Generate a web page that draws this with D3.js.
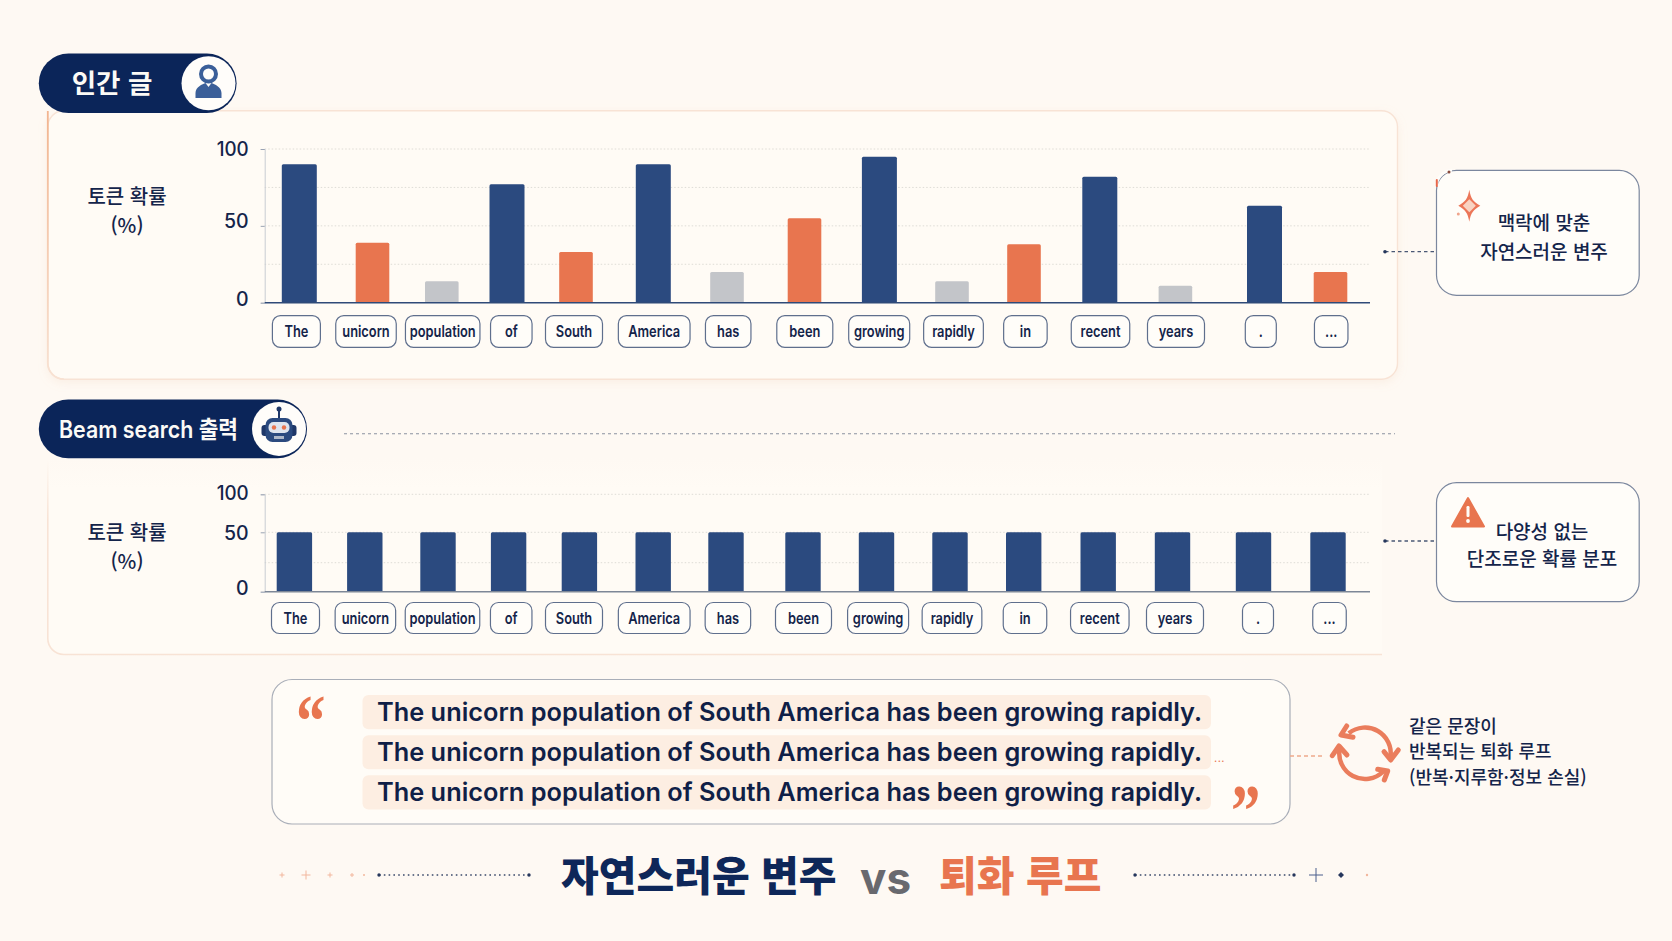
<!DOCTYPE html>
<html lang="ko">
<head>
<meta charset="utf-8">
<title>자연스러운 변주 vs 퇴화 루프</title>
<script src="https://cdn.jsdelivr.net/npm/d3@7"></script>
<style>
  html, body { margin: 0; padding: 0; background: #fef9f3; }
  svg { display: block; }
  text { font-family: "Noto Sans CJK KR", "Noto Sans", sans-serif; }
</style>
</head>
<body>
<svg id="chart" width="1672" height="941"></svg>
<script>
// Chart data
const tokens = ["The", "unicorn", "population", "of", "South", "America", "has", "been", "growing", "rapidly", "in", "recent", "years", ".", "..."];
const humanProb = [90, 39, 14, 77, 33, 90, 20, 55, 95, 14, 38, 82, 11, 63, 20];
const humanGroup = ["high", "mid", "low", "high", "mid", "high", "low", "mid", "high", "low", "mid", "high", "low", "high", "mid"];
const beamProb = [50, 50, 50, 50, 50, 50, 50, 50, 50, 50, 50, 50, 50, 50, 50];
const yTicks = [0, 50, 100];
const sentence = "The unicorn population of South America has been growing rapidly.";
const sentenceRepeats = [0, 1, 2];

// Palette
const BG = "#fef9f3", NAVY = "#0b2559", BAR_NAVY = "#2b4a7f", ORANGE = "#e8754f", GREY = "#c3c5c9", INK = "#14244a";
const LATIN = "Inter, 'Noto Sans CJK KR', sans-serif";
const groupColor = d3.scaleOrdinal().domain(["high", "mid", "low"]).range([BAR_NAVY, ORANGE, GREY]);

// Token slots are spaced by hand along the axis, so the x scales are ordinal lookups
const humanBarX = d3.scaleOrdinal().domain(tokens).range([299.3, 372.5, 441.8, 507, 576, 653.3, 727, 804.5, 879.4, 952, 1024, 1099.8, 1175.4, 1264.5, 1330.5]);
const beamBarX = d3.scaleOrdinal().domain(tokens).range([294.4, 364.8, 438, 508.6, 579.4, 653.2, 726, 803, 876.5, 950, 1023.7, 1098.2, 1172.5, 1253.5, 1328]);
const humanChipX = d3.scaleOrdinal().domain(tokens).range([296.4, 366, 442.7, 511.3, 574, 654.2, 728.2, 804.8, 879.2, 953.5, 1025.4, 1100.5, 1176, 1260.8, 1331.2]);
const beamChipX = d3.scaleOrdinal().domain(tokens).range([295.5, 365.4, 442.5, 511.2, 574, 654.2, 727.9, 803.5, 878.1, 952, 1025, 1099.8, 1175, 1258, 1329.5]);
const chipWidth = d3.scaleOrdinal().domain(tokens).range([48, 60.5, 74.5, 41.5, 57, 71.7, 45.5, 56, 61, 59.7, 43.5, 58.5, 57, 31, 33.5]);

const svg = d3.select("#chart");
const defs = svg.append("defs");

const softShadow = defs.append("filter").attr("id", "soft").attr("x", "-5%").attr("y", "-5%").attr("width", "110%").attr("height", "115%");
softShadow.append("feDropShadow").attr("dx", 0).attr("dy", 3).attr("stdDeviation", 5).attr("flood-color", "#e9b999").attr("flood-opacity", 0.16);

const leftEdge = defs.append("linearGradient").attr("id", "leftEdge").attr("x1", 0).attr("x2", 0).attr("y1", 0).attr("y2", 1);
leftEdge.append("stop").attr("offset", "0%").attr("stop-color", "#f2b48f");
leftEdge.append("stop").attr("offset", "100%").attr("stop-color", "#f8e2d3");

// The lower panel melts into the page at its open top edge
const lowerFill = defs.append("linearGradient").attr("id", "lowerFill").attr("x1", 0).attr("x2", 0).attr("y1", 0).attr("y2", 1);
lowerFill.append("stop").attr("offset", "0%").attr("stop-color", BG);
lowerFill.append("stop").attr("offset", "16%").attr("stop-color", "#fffbf5");
const lowerEdge = defs.append("linearGradient").attr("id", "lowerEdge").attr("gradientUnits", "userSpaceOnUse")
  .attr("x1", 0).attr("x2", 0).attr("y1", 460).attr("y2", 520);
lowerEdge.append("stop").attr("offset", "0%").attr("stop-color", BG);
lowerEdge.append("stop").attr("offset", "100%").attr("stop-color", "#f8e3d5");

// Page background
svg.append("rect").attr("width", 1672).attr("height", 941).attr("fill", BG);

// Upper panel
svg.append("rect").attr("x", 47.8).attr("y", 110.7).attr("width", 1349.7).attr("height", 268.6).attr("rx", 16)
  .attr("fill", "#fffbf5").attr("stroke", "#f8e3d5").attr("stroke-width", 1.4).attr("filter", "url(#soft)");
svg.append("path").attr("d", "M47.8 111V363a16 16 0 0 0 16 16").attr("fill", "none").attr("stroke", "url(#leftEdge)").attr("stroke-width", 1.8);

// Lower panel is open along its top and right sides
svg.append("path").attr("d", "M47.8 458V638a16 16 0 0 0 16 16.5H1382V458Z").attr("fill", "url(#lowerFill)");
svg.append("path").attr("d", "M47.8 458V638a16 16 0 0 0 16 16.5H1382").attr("fill", "none").attr("stroke", "url(#lowerEdge)").attr("stroke-width", 1.6);

function drawChart(cfg) {
  const g = svg.append("g");
  const right = 1370, left = 264.7;

  // Grid lines
  g.selectAll("line.grid").data(cfg.grid).join("line").attr("class", "grid")
    .attr("x1", left).attr("x2", right).attr("y1", d => cfg.y(d)).attr("y2", d => cfg.y(d))
    .attr("stroke", "#dedcd6").attr("stroke-width", 1).attr("stroke-dasharray", "1.5 2");

  // Value axis
  const axis = g.append("g").attr("transform", `translate(${left},0)`)
    .call(d3.axisLeft(cfg.y).tickValues(yTicks).tickSize(4).tickPadding(12));
  axis.select(".domain").attr("stroke", "#c9ccd2").attr("stroke-width", 1);
  axis.selectAll(".tick line").attr("stroke", "#9aa3b3");
  axis.selectAll(".tick text")
    .style("font-family", LATIN)
    .attr("fill", INK).attr("font-size", 19.5).attr("font-weight", 500)
    .attr("textLength", d => d === 100 ? 32 : null).attr("lengthAdjust", "spacingAndGlyphs")
    .attr("dy", d => cfg.labelShift[d]);

  // Bars
  g.selectAll("rect.bar").data(tokens.map((t, i) => ({ t, v: cfg.values[i], group: cfg.groups[i] }))).join("rect")
    .attr("class", "bar")
    .attr("x", d => cfg.barX(d.t) - cfg.barWidth(d.group) / 2)
    .attr("width", d => cfg.barWidth(d.group))
    .attr("y", d => cfg.y(d.v))
    .attr("height", d => cfg.y(0) - cfg.y(d.v))
    .attr("rx", 1.5)
    .attr("fill", d => groupColor(d.group));

  // Baseline
  g.append("line").attr("x1", left).attr("x2", right).attr("y1", cfg.y(0)).attr("y2", cfg.y(0))
    .attr("stroke", cfg.baseline).attr("stroke-width", 1.6);

  // Token chips under the axis
  const chips = g.selectAll("g.chip").data(tokens).join("g").attr("class", "chip")
    .attr("transform", d => `translate(${cfg.chipX(d)},${cfg.chipY})`);
  chips.append("rect")
    .attr("x", d => -chipWidth(d) / 2).attr("width", d => chipWidth(d))
    .attr("height", cfg.chipH).attr("rx", 8)
    .attr("fill", "#fffdf9").attr("stroke", "#5f6f8d").attr("stroke-width", 1.2);
  const chipText = chips.append("text")
    .attr("dy", "0.35em").attr("text-anchor", "middle")
    .style("font-family", LATIN)
    .attr("font-size", 16).attr("font-weight", 600).attr("fill", INK)
    .text(d => d);
  // The labels are set condensed so that the longest one fits its chip with a small margin
  const longest = chipText.filter(d => d === "population").node().getComputedTextLength();
  chipText.attr("transform", `translate(0,${cfg.chipH / 2}) scale(${66 / longest},1)`);

  // Axis title
  const title = g.append("text").attr("text-anchor", "middle").attr("fill", INK).attr("font-size", 20).attr("font-weight", 500);
  title.append("tspan").attr("x", 127).attr("y", cfg.titleY).text("토큰 확률");
  title.append("tspan").attr("x", 127).attr("y", cfg.titleY + 29).text("(%)");
}

drawChart({
  y: d3.scaleLinear().domain([0, 100]).range([302.7, 149]),
  values: humanProb,
  groups: humanGroup,
  barX: humanBarX,
  barWidth: g => g === "high" ? 35 : 33.6,
  chipX: humanChipX,
  chipY: 315.7,
  chipH: 31.6,
  grid: [25, 50, 75, 100],
  baseline: "#2f4a78",
  labelShift: { 100: 6.7, 50: 2, 0: 2.5 },
  titleY: 203.5
});

// The lower value axis is compressed above 50
drawChart({
  y: d3.scaleLinear().domain([0, 25, 50, 100]).range([591.7, 562.7, 532.3, 494.3]),
  values: beamProb,
  groups: beamProb.map(() => "high"),
  barX: beamBarX,
  barWidth: () => 35.4,
  chipX: beamChipX,
  chipY: 602.5,
  chipH: 31,
  grid: [25, 50, 100],
  baseline: "#7d8797",
  labelShift: { 100: 5, 50: 7, 0: 3 },
  titleY: 539.5
});

// Section pills
function pill(x, y, w, h, cx) {
  const g = svg.append("g");
  g.append("rect").attr("x", x).attr("y", y).attr("width", w).attr("height", h).attr("rx", h / 2).attr("fill", NAVY);
  g.append("circle").attr("cx", cx).attr("cy", y + h / 2).attr("r", 27).attr("fill", "#fffdfa");
  return g;
}
pill(38.8, 53.5, 197.8, 59.5, 208.5).append("text")
  .attr("x", 112).attr("y", 84).attr("dy", "0.35em").attr("text-anchor", "middle")
  .attr("font-size", 26.5).attr("font-weight", 700).attr("fill", "#fbfaf6").text("인간 글");
pill(38.8, 399.5, 268.2, 58.8, 279).append("text")
  .attr("x", 59).attr("y", 429.5).attr("dy", "0.35em")
  .style("font-family", LATIN)
  .attr("font-size", 24).attr("font-weight", 600).attr("fill", "#fbfaf6")
  .attr("textLength", 179).attr("lengthAdjust", "spacingAndGlyphs").text("Beam search 출력");

// Person icon
const person = svg.append("g").attr("transform", "translate(208.5,83)").attr("fill", "#3b5f99");
person.append("circle").attr("cy", -9).attr("r", 7.5).attr("fill", "none").attr("stroke", "#3b5f99").attr("stroke-width", 4);
person.append("path").attr("d", "M-13 15V10C-13 4 -6 1 -3 0L0 4L3 0C6 1 13 4 13 10V15Z");

// Robot icon
const robot = svg.append("g").attr("transform", "translate(279,429)");
robot.append("line").attr("y1", -20).attr("y2", -11).attr("stroke", "#1f3768").attr("stroke-width", 2);
robot.append("circle").attr("cy", -20).attr("r", 2.5).attr("fill", "#1f3768");
robot.append("rect").attr("x", -17.5).attr("y", -4).attr("width", 35).attr("height", 11).attr("rx", 3).attr("fill", "#1f3768");
robot.append("rect").attr("x", -13.5).attr("y", -11).attr("width", 27).attr("height", 24).attr("rx", 7).attr("fill", "#2b4a7f");
robot.append("rect").attr("x", -10.5).attr("y", -7).attr("width", 21).attr("height", 11).attr("rx", 5).attr("fill", "#dfe5ee");
robot.append("circle").attr("cx", -5).attr("cy", -1.5).attr("r", 2.2).attr("fill", ORANGE);
robot.append("circle").attr("cx", 5).attr("cy", -1.5).attr("r", 2.2).attr("fill", ORANGE);
robot.append("rect").attr("x", -5).attr("y", 7).attr("width", 10).attr("height", 3).attr("fill", "#aeb8c9");

// Dashed rule beside the lower pill
svg.append("line").attr("x1", 344).attr("x2", 1395).attr("y1", 433.7).attr("y2", 433.7)
  .attr("stroke", "#8c93a1").attr("stroke-width", 1.1).attr("stroke-dasharray", "3 3");

// Callouts on the right
function callout(y, h, lines, lineY, linkY, linkX, cx) {
  const g = svg.append("g");
  g.append("line").attr("x1", linkX).attr("x2", 1436).attr("y1", linkY).attr("y2", linkY)
    .attr("stroke", "#4a5875").attr("stroke-width", 1.3).attr("stroke-dasharray", "3.5 3");
  g.append("circle").attr("cx", linkX).attr("cy", linkY).attr("r", 1.8).attr("fill", "#26375c");
  g.append("rect").attr("x", 1436.5).attr("y", y).attr("width", 202.7).attr("height", h).attr("rx", 20)
    .attr("fill", "#fffdf9").attr("stroke", "#7b879e").attr("stroke-width", 1.2);
  g.selectAll("text").data(lines).join("text")
    .attr("x", cx).attr("y", (d, i) => lineY[i]).attr("dy", "0.35em").attr("text-anchor", "middle")
    .attr("font-size", 19).attr("font-weight", 500).attr("fill", INK).text(d => d);
}
callout(170.3, 125, ["맥락에 맞춘", "자연스러운 변주"], [223, 252.5], 251.7, 1385, 1544);
callout(482.7, 119, ["다양성 없는", "단조로운 확률 분포"], [532, 559.5], 541, 1385, 1542);

// The upper callout's corner is broken open where the sparkle sits
svg.append("path").attr("d", "M1436.5 186A16 16 0 0 1 1452 170.3").attr("fill", "none").attr("stroke", "#fffdf9").attr("stroke-width", 3);
svg.append("path").attr("d", "M1436.8 186V180").attr("stroke", "#e8664a").attr("stroke-width", 2).attr("stroke-linecap", "round");
svg.append("circle").attr("cx", 1449).attr("cy", 172).attr("r", 1.5).attr("fill", "#8a4a3c");

// Sparkle
const sparkle = svg.append("g").attr("transform", "translate(1469.3,205.7)");
sparkle.append("path").attr("d", "M0 -16C1.5 -7 4 -4 11 0C4 4 1.5 7 0 16C-1.5 7 -4 4 -11 0C-4 -4 -1.5 -7 0 -16Z").attr("fill", "#ec7658");
sparkle.append("path").attr("d", "M0 -6.5L6.5 0L0 6.5L-6.5 0Z").attr("fill", "#f9d3c2");
svg.append("circle").attr("cx", 1458.3).attr("cy", 214).attr("r", 1.5).attr("fill", "#f0a48c");

// Warning sign on the lower callout
const warn = svg.append("g");
warn.append("path").attr("d", "M1468 498L1484 526.5H1452Z").attr("fill", ORANGE).attr("stroke", ORANGE).attr("stroke-width", 2).attr("stroke-linejoin", "round");
warn.append("rect").attr("x", 1466.5).attr("y", 506).attr("width", 3).attr("height", 11).attr("rx", 1.2).attr("fill", "#fffdf9");
warn.append("circle").attr("cx", 1468).attr("cy", 521).attr("r", 1.9).attr("fill", "#fffdf9");

// Repeated sentence box
svg.append("rect").attr("x", 272).attr("y", 679.5).attr("width", 1018).attr("height", 144.5).attr("rx", 20)
  .attr("fill", "#fffcf7").attr("stroke", "#a9aeb8").attr("stroke-width", 1.2);

const lineY = d3.scaleBand().domain(sentenceRepeats).range([695, 809.5]).paddingInner(0.15);
const rows = svg.selectAll("g.row").data(sentenceRepeats).join("g").attr("class", "row")
  .attr("transform", d => `translate(0,${lineY(d)})`);
rows.append("rect").attr("x", 362.5).attr("width", 848.5).attr("height", lineY.bandwidth()).attr("rx", 6).attr("fill", "#fdeee2");
rows.append("text").attr("x", 377).attr("y", lineY.bandwidth() / 2).attr("dy", "0.35em")
  .style("font-family", LATIN)
  .attr("font-size", 25).attr("font-weight", 600).attr("fill", "#101f47")
  .attr("textLength", 825).attr("lengthAdjust", "spacingAndGlyphs").text(sentence);

svg.append("text").attr("x", 1214).attr("y", 762).style("font-family", LATIN).attr("font-size", 11).attr("letter-spacing", 0.5).attr("fill", ORANGE).text("...");
svg.append("text").attr("transform", "translate(296,746) scale(1.05,1.33)").style("font-family", "'Liberation Serif', serif").attr("font-size", 56).attr("font-weight", 700).attr("fill", ORANGE).text("“");
svg.append("text").attr("transform", "translate(1231,836) scale(1.05,1.33)").style("font-family", "'Liberation Serif', serif").attr("font-size", 56).attr("font-weight", 700).attr("fill", ORANGE).text("”");

// Link from the box to the loop icon
svg.append("line").attr("x1", 1290).attr("x2", 1323).attr("y1", 756).attr("y2", 756)
  .attr("stroke", "#eea98c").attr("stroke-width", 1.3).attr("stroke-dasharray", "4 3");

// Loop icon: two arcs, each with a chevron at both ends
const loopColor = "#ea7d5c";
const loop = svg.append("g").attr("transform", "translate(1365,753.3)");
const loopArc = d3.arc().innerRadius(23.5).outerRadius(28);
const deg = Math.PI / 180;
loop.append("path").attr("d", loopArc({ startAngle: -39 * deg, endAngle: 99 * deg })).attr("fill", loopColor);
loop.append("path").attr("d", loopArc({ startAngle: 135 * deg, endAngle: 281 * deg })).attr("fill", loopColor);
loop.selectAll("path.head").data([
  "M-18.3 -27.3L-24 -18.3L-12 -16",
  "M19 -1.7L25.7 6.7L33.3 -3.3",
  "M12.7 16L22.7 17.7L19.3 26.7",
  "M-32.7 2.3L-26 -7.3L-18 1.7"
]).join("path").attr("class", "head")
  .attr("d", d => d).attr("fill", "none").attr("stroke", loopColor)
  .attr("stroke-width", 5).attr("stroke-linecap", "round").attr("stroke-linejoin", "round");

// Loop caption
svg.append("g").selectAll("text").data(["같은 문장이", "반복되는 퇴화 루프", "(반복·지루함·정보 손실)"]).join("text")
  .attr("x", 1409).attr("y", (d, i) => 726.5 + i * 25.6).attr("dy", "0.35em")
  .attr("font-size", 18).attr("font-weight", 500).attr("fill", INK).text(d => d);

// Closing headline
const head = svg.append("g").attr("font-size", 41).attr("font-weight", 900);
head.append("text").attr("x", 561).attr("y", 877).attr("dy", "0.35em").attr("fill", "#0e2759").text("자연스러운 변주");
head.append("text").attr("x", 860).attr("y", 879).attr("dy", "0.35em").style("font-family", "Inter, sans-serif").attr("font-size", 44).attr("font-weight", 700).attr("fill", "#68696e").text("vs");
head.append("text").attr("x", 939).attr("y", 877).attr("dy", "0.35em").attr("fill", ORANGE).text("퇴화 루프");

// Headline ornaments
function dotted(x1, x2) {
  svg.append("line").attr("x1", x1).attr("x2", x2).attr("y1", 875).attr("y2", 875)
    .attr("stroke", "#3b4a6b").attr("stroke-width", 1.6).attr("stroke-dasharray", "1.6 3.2");
  [x1, x2].forEach(x => svg.append("circle").attr("cx", x).attr("cy", 875).attr("r", 1.7).attr("fill", "#26375c"));
}
dotted(379, 529);
dotted(1135, 1294);
function plus(x, r, color) {
  svg.append("path").attr("d", `M${x - r} 875H${x + r}M${x} ${875 - r}V${875 + r}`).attr("stroke", color).attr("stroke-width", 1).attr("fill", "none");
}
plus(282, 2.5, "#f2b79d");
plus(306, 4.5, "#f2b79d");
plus(330, 2.5, "#f2b79d");
plus(352, 2, "#f2b79d");
svg.append("circle").attr("cx", 364).attr("cy", 875).attr("r", 1).attr("fill", "#f2b79d");
plus(1316, 7, "#4a5f8c");
svg.append("path").attr("d", "M1341 872L1344 875L1341 878L1338 875Z").attr("fill", "#26375c");
svg.append("circle").attr("cx", 1367).attr("cy", 875).attr("r", 1.2).attr("fill", "#f2b79d");
</script>
</body>
</html>
